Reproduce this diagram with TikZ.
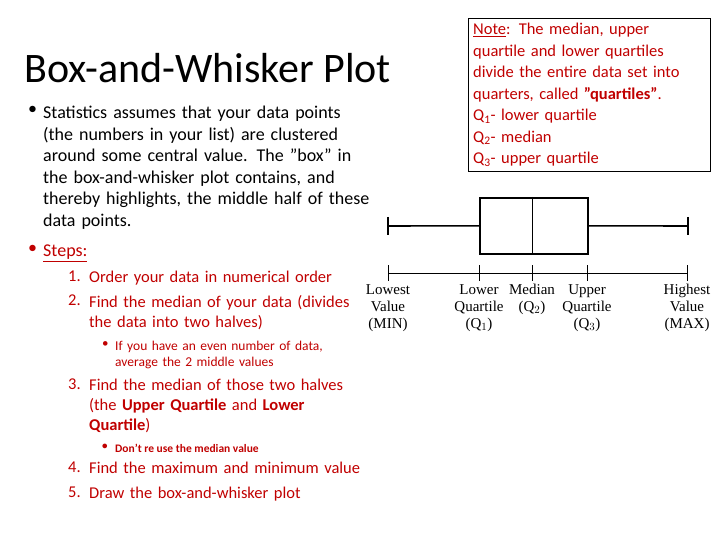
\documentclass[tikz,border=0pt]{standalone}
\usepackage{fontspec}
\setmainfont{Carlito}
\newfontfamily\timesfont{Liberation Serif}
\usepackage{tikz}
\definecolor{stepred}{HTML}{C00000}
\usetikzlibrary{positioning}
\hyphenpenalty=10000
\exhyphenpenalty=10000

\begin{document}
\begin{tikzpicture}[x=1pt,y=-1pt,
  txt/.style={anchor=north west,align=left,inner sep=0pt},
  body/.style={txt,font=\fontsize{18}{21.5}\selectfont},
  stepitem/.style={txt,text=stepred,font=\fontsize{16.5}{20}\selectfont},
  lbl/.style={align=center,inner sep=0pt,font=\timesfont\fontsize{15}{17}\selectfont},
  thick line/.style={line width=1.6pt}]
\useasboundingbox (0,0) rectangle (720,540);
% title and first bullet
\node[txt,anchor=west,font=\fontsize{42}{44}\selectfont] (title) at (24,68) {Box-and-Whisker Plot};
\node[body] (dot1) at (28,106) {•};
\node[body,text width=328pt] (intro) at (43,106) {Statistics assumes that your data points (the numbers in your list) are clustered around some central value. The \symbol{34}box\symbol{34} in the box-and-whisker plot contains, and thereby highlights, the middle half of these data points.};
% steps
\node[body,text=stepred] (dot2) at (28,245) {•};
\node[body,text=stepred] (steps) at (43,245) {\underline{Steps:}};
\foreach \n/\y/\t in {1/271/{Order your data in numerical order},
  2/295/{Find the median of your data (divides the data into two halves)},
  3/379/{Find the median of those two halves (the \textbf{Upper Quartile} and \textbf{Lower Quartile})},
  4/462/{Find the maximum and minimum value},
  5/487/{Draw the box-and-whisker plot}} {
  \node[stepitem] (num\n) at (68,\y) {\n.};
  \node[stepitem,text width=278pt] (item\n) at (89,\y) {\t};
}
\node[stepitem,font=\fontsize{13}{16}\selectfont] (sub1dot) at (102,341) {•};
\node[stepitem,font=\fontsize{13.5}{16}\selectfont,text width=245pt] (sub1) at (115,341) {If you have an even number of data, average the 2 middle values};
\node[stepitem,font=\bfseries\fontsize{11}{13}\selectfont] (sub2dot) at (102,444) {•};
\node[stepitem,font=\bfseries\fontsize{11.5}{13}\selectfont] (sub2) at (115,444) {Don't re use the median value};
% note box
\node[txt,draw,text=stepred,inner sep=5pt,text width=232pt,font=\fontsize{16.5}{21.5}\selectfont] (note) at (468,18)
 {\underline{Note}: The median, upper quartile and lower quartiles divide the entire data set into quarters, called \textbf{\symbol{34}quartiles\symbol{34}}.\\
 Q\textsubscript{1}- lower quartile\\ Q\textsubscript{2}- median\\ Q\textsubscript{3}- upper quartile};
% box plot
\coordinate (wl) at (388,226); \coordinate (wr) at (688,226);
\node[draw,thick line,minimum width=108pt,minimum height=56pt,inner sep=0pt,anchor=north west] (box) at (479,197) {};
\draw[thick line] (wl) -- (box.west) (box.east) -- (wr);
\draw[thick line] (388,217) -- (388,235) (688,217) -- (688,235);
\draw[line width=0.9pt] (532,197) -- (532,253);
\coordinate (al) at (388,273); \coordinate (ar) at (687,273);
\draw[line width=0.9pt] (al) -- (ar);
\foreach \x/\name/\t in {388/min/{Lowest\\Value\\(MIN)},479/qa/{Lower\\Quartile\\(Q$_1$)},532/qb/{Median\\(Q$_2$)},
  587/qc/{Upper\\Quartile\\(Q$_3$)},687/max/{Highest\\Value\\(MAX)}} {
  \draw[line width=0.9pt] (\x,265) -- (\x,281);
  \node[lbl,anchor=north] (\name) at (\x,284) {\t};
}
\end{tikzpicture}
\end{document}
